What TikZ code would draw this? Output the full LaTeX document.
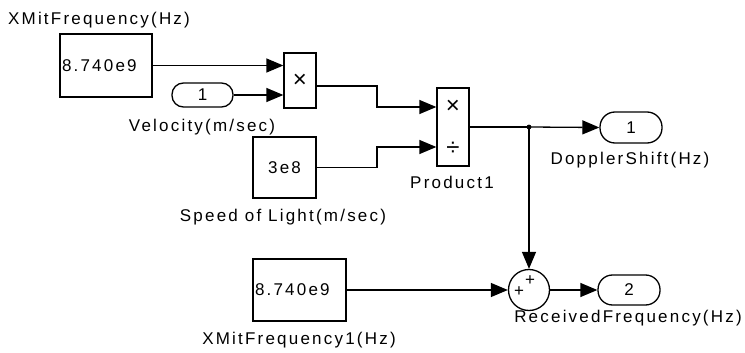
\documentclass[tikz,border=0pt]{standalone}
\usepackage{fontspec}
\setmainfont{Liberation Sans}[LetterSpace=13]
\newfontfamily\symfont{Liberation Sans}
\usetikzlibrary{arrows.meta,positioning,calc}

\tikzset{every picture/.style={line width=1.3pt}}
\tikzset{
  blk/.style={draw, rectangle, inner sep=2pt, font=\fontsize{17}{19}\selectfont},
  port/.style={draw, rectangle, inner sep=0pt, minimum width=62pt, font=\fontsize{17}{19}\selectfont},
  sym/.style={inner sep=0pt, font=\symfont\fontsize{24}{24}\selectfont},
  lbl/.style={inner sep=0pt, font=\fontsize{17}{19}\selectfont},
  sig/.style={-{Triangle[length=17pt,width=14pt]}}
}

\begin{document}
\begin{tikzpicture}[x=1pt,y=-1pt]
\useasboundingbox (0,0) rectangle (745,353);

%Shape: Constant blocks
\node[blk, minimum width=92pt, minimum height=63pt, text width=88pt, align=left] (xmit) at (106,65.5) {8.740e9};
\node[blk, minimum width=63pt, minimum height=61pt] (light) at (284.5,167.5) {3e8};
\node[blk, minimum width=93pt, minimum height=62pt, text width=89pt, align=left] (xmitb) at (299.5,290) {8.740e9};

%Shape: In and Out ports
\node[port, minimum width=61pt, minimum height=24pt, rounded corners=11.5pt] (vel) at (202.5,95) {1};
\node[port, minimum height=31pt, rounded corners=15pt] (doppler) at (631,127.5) {1};
\node[port, minimum height=30pt, rounded corners=14.5pt] (recv) at (629,290) {2};

%Shape: Product blocks
\node[blk, minimum width=32pt, minimum height=55pt, font=\symfont\fontsize{24}{24}\selectfont] (prod) at (300,80.5) {×};
\node[blk, minimum width=32pt, minimum height=78pt] (prodb) at (453,127) {};
\node[sym] (prodbmul) at (453,107) {×};
\node[sym] (prodbdiv) at (453,149) {÷};

%Shape: Sum
\node[draw, circle, minimum size=41pt, inner sep=0pt] (sum) at (529,290) {};
\node[sym, font=\symfont\fontsize{17}{17}\selectfont] (sumtop) at (530,281) {+};
\node[sym, font=\symfont\fontsize{17}{17}\selectfont] (sumleft) at (519,292) {+};

%Junction points
\coordinate (jog) at (377,0);
\coordinate (branch) at (529,127);
\coordinate (prodout) at ([yshift=-5.5pt]prod.east);
\coordinate (prodbin1) at ([yshift=20pt]prodb.west);
\coordinate (prodbin2) at ([yshift=-20pt]prodb.west);

%Straight Lines
\draw[sig] (xmit.east) -- (xmit.east -| prod.west);
\draw[sig] (vel.east) -- (vel.east -| prod.west);
\draw[sig] (prodout) -- (prodout -| jog) -- (jog |- prodbin1) -- (prodbin1);
\draw[sig] (light.east) -- (light.east -| jog) -- (jog |- prodbin2) -- (prodbin2);
\draw (prodb.east) -- (branch);
\fill (branch) circle (2.4pt);
\draw[sig] (branch) -- (doppler.west);
\draw[sig] (branch) -- (sum.north);
\draw[sig] (xmitb.east) -- (sum.west);
\draw[sig] (sum.east) -- (recv.west);

% Text Node
\node[lbl] (xmitlbl) at (99,20) {XMitFrequency(Hz)};
% Text Node
\node[lbl] (vellbl) at (202,127) {Velocity(m/sec)};
% Text Node
\node[lbl] (lightlbl) at (283,217) {Speed of Light(m/sec)};
% Text Node
\node[lbl] (prodblbl) at (452,182) {Product1};
% Text Node
\node[lbl] (dopplerlbl) at (630,160) {DopplerShift(Hz)};
% Text Node
\node[lbl] (recvlbl) at (628,318) {ReceivedFrequency(Hz)};
% Text Node
\node[lbl] (xmitblbl) at (299,340) {XMitFrequency1(Hz)};

\end{tikzpicture}
\end{document}
